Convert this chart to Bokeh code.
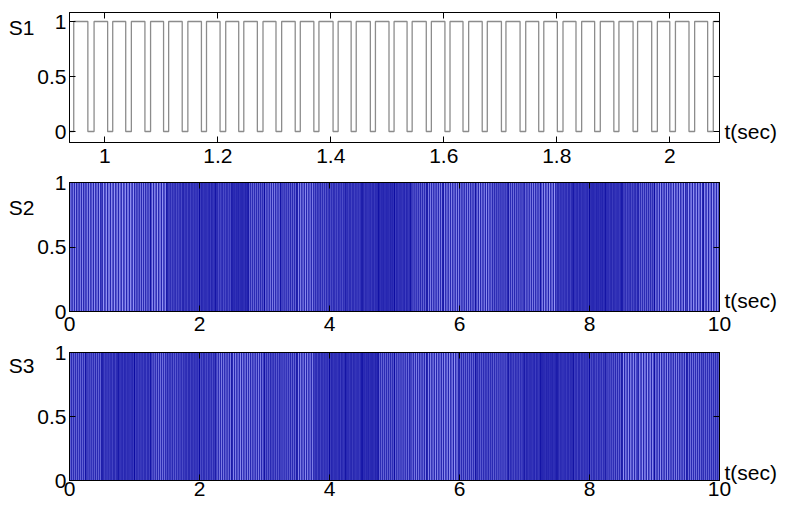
import numpy as np
from bokeh.plotting import figure
from bokeh.layouts import column
from bokeh.models import Range1d, FixedTicker, LinearAxis
from bokeh.embed import file_html
from bokeh.resources import INLINE

# ---------------- data ----------------
# S1: square wave (zoomed view), switching instants
s1_up = [0.945, 0.981, 1.014, 1.047, 1.081, 1.113, 1.147, 1.180, 1.214, 1.246,
         1.280, 1.313, 1.346, 1.379, 1.413, 1.445, 1.479, 1.512, 1.544, 1.578,
         1.611, 1.644, 1.677, 1.710, 1.745, 1.777, 1.811, 1.844, 1.877, 1.910,
         1.943, 1.978, 2.010, 2.044, 2.077]
s1_down = [0.970, 1.005, 1.037, 1.071, 1.104, 1.137, 1.171, 1.204, 1.237, 1.270,
           1.303, 1.337, 1.370, 1.404, 1.436, 1.470, 1.503, 1.535, 1.569, 1.602,
           1.634, 1.668, 1.702, 1.735, 1.768, 1.801, 1.834, 1.867, 1.901, 1.935,
           1.968, 2.000, 2.034, 2.067]

# S2 / S3: switching signals over 0..10 s, per 0.25 s block: switching period (s) and duty
block_len = 0.25
s2_period = [0.036, 0.038, 0.042, 0.042, 0.034, 0.040, 0.026, 0.024,
             0.022, 0.026, 0.020, 0.030, 0.034, 0.030, 0.036, 0.028,
             0.026, 0.024, 0.022, 0.020, 0.022, 0.030, 0.034, 0.036,
             0.034, 0.036, 0.030, 0.032, 0.034, 0.038, 0.024, 0.022,
             0.020, 0.022, 0.026, 0.030, 0.036, 0.038, 0.040, 0.040]
s2_duty = [0.20, 0.18, 0.15, 0.15, 0.22, 0.15, 0.35, 0.38,
           0.40, 0.35, 0.42, 0.28, 0.22, 0.28, 0.18, 0.30,
           0.35, 0.38, 0.40, 0.42, 0.40, 0.28, 0.22, 0.18,
           0.22, 0.18, 0.28, 0.25, 0.22, 0.16, 0.38, 0.40,
           0.42, 0.40, 0.35, 0.28, 0.18, 0.16, 0.15, 0.15]
s3_period = [0.030, 0.030, 0.024, 0.022, 0.024, 0.032, 0.028, 0.024,
             0.026, 0.034, 0.036, 0.034, 0.028, 0.030, 0.036, 0.024,
             0.022, 0.022, 0.020, 0.030, 0.032, 0.034, 0.036, 0.038,
             0.030, 0.028, 0.030, 0.026, 0.022, 0.020, 0.022, 0.024,
             0.026, 0.030, 0.038, 0.040, 0.036, 0.034, 0.032, 0.030]
s3_duty = [0.28, 0.28, 0.38, 0.40, 0.38, 0.25, 0.30, 0.38,
           0.35, 0.22, 0.18, 0.22, 0.30, 0.28, 0.18, 0.38,
           0.40, 0.40, 0.42, 0.28, 0.25, 0.22, 0.18, 0.16,
           0.28, 0.30, 0.28, 0.35, 0.40, 0.42, 0.40, 0.38,
           0.35, 0.28, 0.16, 0.15, 0.18, 0.22, 0.25, 0.28]

x1_range = (0.9375, 2.088)
x2_range = (0.0, 10.0)
x1_ticks = [1.0, 1.2, 1.4, 1.6, 1.8, 2.0]
x1_labels = ["1", "1.2", "1.4", "1.6", "1.8", "2"]
x2_ticks = [0, 2, 4, 6, 8, 10]
x2_labels = ["0", "2", "4", "6", "8", "10"]
y_ticks = [0, 0.5, 1]
y_labels = ["0", "0.5", "1"]
signal_names = ["S1", "S2", "S3"]
time_label = "t(sec)"

FONT = "Liberation Sans"
TICK_FS = "21px"
TEXT_FS = "21px"


def edges(periods, duties):
    ts = []
    for i, (T, d) in enumerate(zip(periods, duties)):
        start = i * block_len
        for t0 in np.arange(start, start + block_len - 1e-9, T):
            ts.append(t0)
            ts.append(t0 + d * T)
    return np.array(ts)


def style(ax, show):
    ax.major_tick_in = 6
    ax.major_tick_out = 0
    ax.minor_tick_line_color = None
    ax.axis_line_color = "black"
    ax.major_tick_line_color = "black"
    ax.major_label_text_font = FONT
    if show:
        ax.major_label_text_color = "black"
        ax.major_label_text_font_size = TICK_FS
    else:
        ax.major_label_text_color = None
        ax.major_label_text_font_size = "1px"
        ax.major_label_standoff = 0


def text_axis(p, side, yval, txt, standoff):
    ax = LinearAxis(ticker=FixedTicker(ticks=[yval]), major_label_overrides={yval: txt})
    ax.axis_line_color = None
    ax.major_tick_line_color = None
    ax.minor_tick_line_color = None
    ax.major_tick_in = 0
    ax.major_tick_out = 0
    ax.major_label_text_font = FONT
    ax.major_label_text_font_size = TEXT_FS
    ax.major_label_text_color = "black"
    ax.major_label_standoff = standoff
    p.add_layout(ax, side)


def make_fig(height, bt, bb, xr, yr, xt, xl, standoff, bg, name, name_y, t_y):
    p = figure(width=789, height=height, x_range=Range1d(*xr), y_range=Range1d(*yr),
               output_backend="svg", toolbar_location=None,
               min_border_left=69, min_border_right=70, min_border_top=bt,
               min_border_bottom=bb, background_fill_color=bg,
               border_fill_color="white", x_axis_location=None, y_axis_location=None)
    p.grid.visible = False
    p.outline_line_color = "black"
    p.outline_line_width = 1
    p.outline_line_alpha = 1

    xb = LinearAxis(ticker=FixedTicker(ticks=xt), major_label_overrides=dict(zip(xt, xl)))
    style(xb, True)
    xb.major_label_standoff = standoff
    p.add_layout(xb, "below")
    xa = LinearAxis(ticker=FixedTicker(ticks=xt))
    style(xa, False)
    p.add_layout(xa, "above")
    yl = LinearAxis(ticker=FixedTicker(ticks=y_ticks), major_label_overrides=dict(zip(y_ticks, y_labels)))
    style(yl, True)
    yl.major_label_standoff = 3
    p.add_layout(yl, "left")
    yr_ax = LinearAxis(ticker=FixedTicker(ticks=y_ticks))
    style(yr_ax, False)
    p.add_layout(yr_ax, "right")
    # signal name (left) and time label (right)
    text_axis(p, "left", name_y, name, 0)
    text_axis(p, "right", t_y, time_label, 5)
    return p


# ---- S1 ----
p1 = make_fig(171, 12, 29, x1_range, (-0.1, 1.082), x1_ticks, x1_labels, 6, "white",
              signal_names[0], 0.945, 0.0)
ev = sorted([(t, 1) for t in s1_up] + [(t, 0) for t in s1_down])
xs = [x1_range[0]]
ys = [0]
level = 0
for t, lv in ev:
    xs += [t, t]
    ys += [level, lv]
    level = lv
xs.append(x1_range[1])
ys.append(level)
p1.line(xs, ys, line_color="#8c8c8c", line_width=1.3)

# ---- S2 ----
BG = "#9494f5"
LC = "#00009a"
p2 = make_fig(169, 11, 29, x2_range, (0, 1), x2_ticks, x2_labels, 5, BG,
              signal_names[1], 0.806, 0.085)
e2 = edges(s2_period, s2_duty)
p2.segment(x0=e2, y0=0, x1=e2, y1=1, line_color=LC, line_alpha=0.62, line_width=1)

# ---- S3 ----
p3 = make_fig(165, 12, 25, x2_range, (0, 1), x2_ticks, x2_labels, 1, BG,
              signal_names[2], 0.898, 0.0625)
e3 = edges(s3_period, s3_duty)
p3.segment(x0=e3, y0=0, x1=e3, y1=1, line_color=LC, line_alpha=0.62, line_width=1)

layout = column(p1, p2, p3, spacing=0)
open("out.html", "w").write(file_html(layout, INLINE))
